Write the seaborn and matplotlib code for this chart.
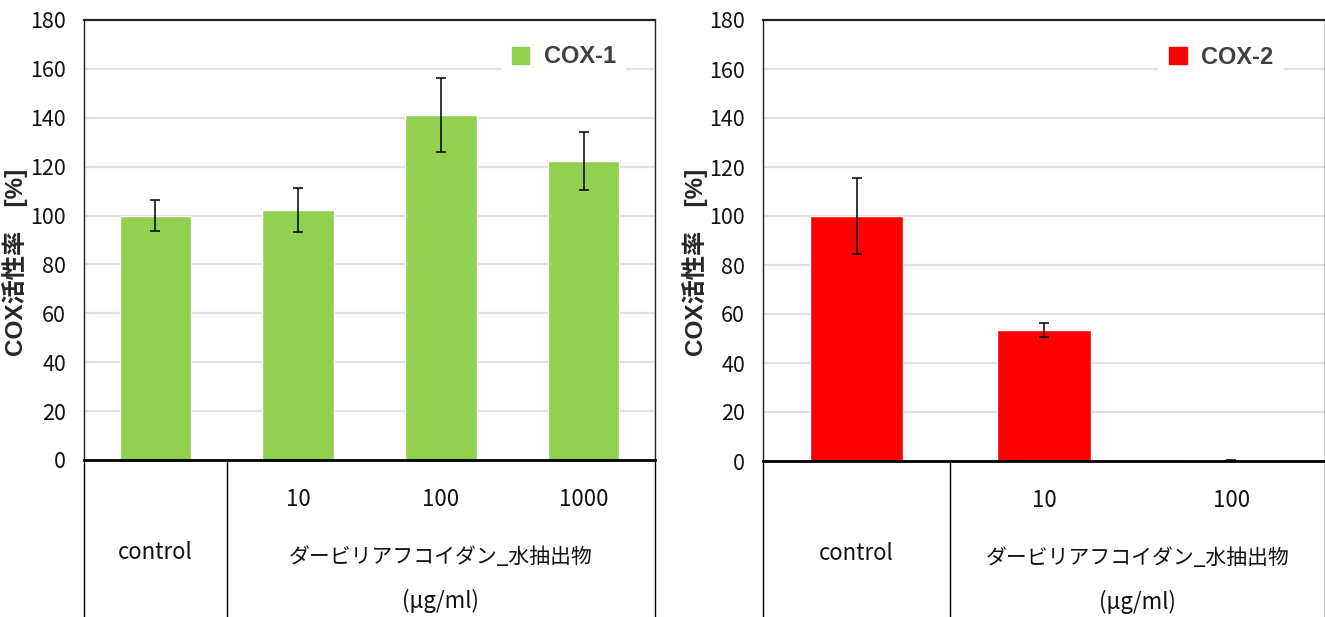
import seaborn as sns
import pandas as pd
import matplotlib.pyplot as plt
from matplotlib.patches import Patch

# values
cox1_groups = ['control', '10', '100', '1000']
cox1_values = [100, 102.3, 141.2, 122.3]
cox1_err = [6.5, 9.0, 15.0, 12.0]

cox2_groups = ['control', '10', '100']
cox2_values = [100, 53.5, 0.3]
cox2_err = [15.5, 3.0, 0.3]

group_label = 'ダービリアフコイダン_水抽出物'
unit_label = '(μg/ml)'
ylabel = 'COX活性率　[%]'
yticks = list(range(0, 181, 20))

W, H = 1325, 617

sns.set_theme(style='white')
plt.rcParams['font.family'] = ['Liberation Sans Narrow', 'Noto Sans CJK JP', 'DejaVu Sans']

fig = plt.figure(figsize=(W / 100, H / 100), dpi=100)


def px_axes(x0, x1, y0, y1):
    return fig.add_axes([x0 / W, 1 - y1 / H, (x1 - x0) / W, (y1 - y0) / H])


def draw_panel(ax, groups, values, errs, color, name, leg_pos):
    df = pd.DataFrame({'dose': groups, 'value': values})
    sns.barplot(data=df, x='dose', y='value', color=color, width=0.5,
                saturation=1, errorbar=None, ax=ax, zorder=3)
    ax.errorbar(range(len(groups)), values, yerr=errs, fmt='none',
                ecolor='black', elinewidth=1.1, capsize=3.5, capthick=1.1, zorder=4)
    ax.set_ylim(0, 180)
    ax.set_xlim(-0.5, len(groups) - 0.5)
    ax.set_yticks(yticks)
    ax.yaxis.grid(True, color='#dce1e8', linewidth=1.6, zorder=0)
    ax.xaxis.grid(False)
    ax.tick_params(axis='y', length=0, pad=13, labelsize=15.5, labelcolor='#111111')
    ax.tick_params(axis='x', length=0)
    ax.set_xticks(range(len(groups)))
    ax.set_xticklabels([''] * len(groups))
    ax.set_xlabel('')
    ax.set_ylabel(ylabel, fontsize=17.5, fontweight='bold',
                  family=['Liberation Sans', 'Noto Sans CJK JP'])
    ax.yaxis.set_label_coords(-0.098, 0.45)
    for side in ['left', 'top', 'right']:
        ax.spines[side].set_visible(True)
        ax.spines[side].set_color('#222222')
        ax.spines[side].set_linewidth(1.0)
    ax.spines['top'].set_linewidth(1.6)
    ax.spines['bottom'].set_color('black')
    ax.spines['bottom'].set_linewidth(2.0)
    ax.spines['bottom'].set_zorder(5)

    # category table below the axis
    tr = ax.get_xaxis_transform()
    n = len(groups)
    for xv in [-0.5, 0.5, n - 0.5]:
        ax.plot([xv, xv], [0, -0.4], transform=tr, color='black',
                linewidth=1.0, clip_on=False)
    for i, g in enumerate(groups[1:], start=1):
        ax.text(i, -0.09, g, transform=tr, ha='center', va='center',
                fontsize=16, color='#111111')
    ax.text(0, -0.21, groups[0], transform=tr, ha='center', va='center',
            fontsize=16, color='#111111')
    mid = (0.5 + n - 0.5) / 2
    ax.text(mid, -0.22, group_label, transform=tr, ha='center', va='center',
            fontsize=15, color='#111111', family=['Noto Sans CJK JP'])
    ax.text(mid, -0.32, unit_label, transform=tr, ha='center', va='center',
            fontsize=16, color='#111111')

    leg = ax.legend(handles=[Patch(color=color)], labels=[name], loc='center',
                    bbox_to_anchor=leg_pos, frameon=True, facecolor='white',
                    edgecolor='none', framealpha=1, fancybox=False,
                    handlelength=0.75, handleheight=0.75, handletextpad=0.6,
                    borderpad=0.45, prop={'family': 'Liberation Sans', 'weight': 'bold', 'size': 17})
    for t in leg.get_texts():
        t.set_color('#404040')
    leg.set_zorder(6)


ax1 = px_axes(84, 655, 20, 460)
draw_panel(ax1, cox1_groups, cox1_values, cox1_err, '#92d050', 'COX-1', (0.84, 0.916))

ax2 = px_axes(763, 1325, 20, 461)
draw_panel(ax2, cox2_groups, cox2_values, cox2_err, '#ff0000', 'COX-2', (0.815, 0.916))

fig.savefig('out.png', dpi=100)
